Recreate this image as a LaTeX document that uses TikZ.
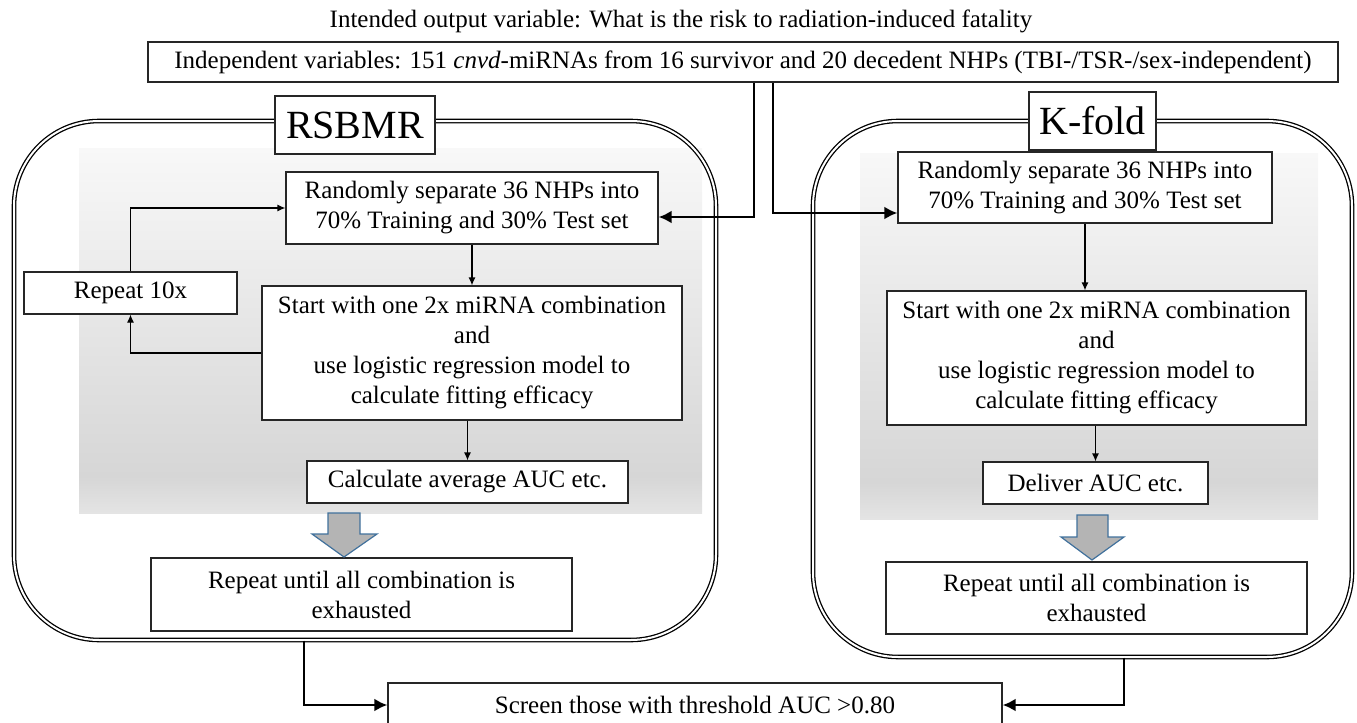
\documentclass[tikz,border=0pt]{standalone}
\usepackage{fontspec}
\setmainfont{Liberation Serif}
\usepackage{xcolor}
\usepackage{tikz}
\usetikzlibrary{arrows.meta}

\definecolor{panelTop}{HTML}{F8F8F8}
\definecolor{panelMid}{HTML}{D6D6D6}
\definecolor{panelBot}{HTML}{E4E4E4}
\definecolor{arrowFill}{HTML}{B4B4B4}
\definecolor{arrowLine}{HTML}{41719C}
\pgfdeclareverticalshading{panelshade}{100bp}{color(0bp)=(panelBot); color(25bp)=(panelBot); color(30bp)=(panelMid); color(75bp)=(panelTop); color(100bp)=(panelTop)}

\begin{document}
\begin{tikzpicture}[x=0.5pt, y=-0.5pt, font=\fontsize{12.5}{15}\selectfont,
  box/.style={draw=black!85, fill=white, line width=0.6pt, align=center, inner sep=0pt},
  heading/.style={box, font=\fontsize{20}{24}\selectfont},
  frame/.style={draw=black, double, double distance=1pt, line width=0.65pt, rounded corners=42.5pt, inner sep=0pt},
  flow/.style={line width=0.6pt, -{Latex[length=4pt, width=3.5pt]}},
  feed/.style={line width=1.3pt, -{Latex[length=6.5pt, width=6.5pt]}},
  bigarrow/.style={fill=arrowFill, draw=arrowLine, line width=0.6pt}]

  \useasboundingbox (0,0) rectangle (1357,723);

  % gray panels
  \shade[shading=panelshade] (79,148) rectangle (702,513);
  \shade[shading=panelshade] (860,153) rectangle (1318,519);

  % outer frames
  \node[frame, minimum width=351pt, minimum height=259.5pt] (rs_frame) at (365,380.5) {};
  \node[frame, minimum width=269.5pt, minimum height=268pt] (kf_frame) at (1082.5,389) {};

  \node (goal) at (681,21) {Intended output variable: What is the risk to radiation-induced fatality};
  \node[box, minimum width=595pt, minimum height=20pt] (indep) at (743,62) {Independent variables: 151 \textit{cnvd}-miRNAs from 16 survivor and 20 decedent NHPs (TBI-/TSR-/sex-independent)};

  \node[heading, minimum width=80pt, minimum height=29pt] (rs_head) at (355,125) {RSBMR};
  \node[heading, minimum width=63.5pt, minimum height=29pt] (kf_head) at (1092.5,121) {K-fold};

  % RSBMR
  \node[box, minimum width=186pt, minimum height=36pt] (rs_split) at (472,208) {Randomly separate 36 NHPs into\\70\% Training and 30\% Test set};
  \node[box, minimum width=106.5pt, minimum height=21pt] (rs_rep) at (130.5,293) {Repeat 10x};
  \node[box, minimum width=210pt, minimum height=67pt] (rs_fit) at (472,353) {Start with one 2x miRNA combination\\and\\use logistic regression model to\\calculate fitting efficacy};
  \node[box, minimum width=160.5pt, minimum height=21pt] (rs_auc) at (467.5,482) {Calculate average AUC etc.};
  \node[box, minimum width=210.5pt, minimum height=36.5pt] (rs_end) at (361.5,594.5) {Repeat until all combination is\\exhausted};

  % K-fold
  \node[box, minimum width=187pt, minimum height=35.5pt] (kf_split) at (1085,187.5) {Randomly separate 36 NHPs into\\70\% Training and 30\% Test set};
  \node[box, minimum width=209.5pt, minimum height=67pt] (kf_fit) at (1096.5,358) {Start with one 2x miRNA combination\\and\\use logistic regression model to\\calculate fitting efficacy};
  \node[box, minimum width=112.5pt, minimum height=21pt] (kf_auc) at (1095.5,483) {Deliver AUC etc.};
  \node[box, minimum width=210.5pt, minimum height=36pt] (kf_end) at (1096.5,598) {Repeat until all combination is\\exhausted};

  \node[box, minimum width=307pt, minimum height=22pt] (screen) at (695,705) {Screen those with threshold AUC >0.80};

  % inputs
  \coordinate (rs_tap) at (754,217);
  \coordinate (kf_tap) at (773,213);
  \draw[feed] (indep.south -| rs_tap) -- (rs_tap) -- (rs_split.east |- rs_tap);
  \draw[feed] (indep.south -| kf_tap) -- (kf_tap) -- (kf_split.west |- kf_tap);

  \draw[flow] (rs_split) -- (rs_fit);
  \draw[flow] (rs_fit.south -| rs_auc) -- (rs_auc.north);
  \draw[flow] (rs_fit.west) -| (rs_rep.south);
  \draw[flow] (rs_rep.north) |- (rs_split.west);
  \draw[flow] (kf_split.south) -- (kf_split.south |- kf_fit.north);
  \draw[flow] (kf_fit.south -| kf_auc) -- (kf_auc.north);

  \filldraw[bigarrow] (328,513) -- (360,513) -- (360,534) -- (377,534) -- (344,557) -- (312,534) -- (328,534) -- cycle;
  \filldraw[bigarrow] (1077,515) -- (1108,515) -- (1108,537) -- (1124,537) -- (1092,560) -- (1061,537) -- (1077,537) -- cycle;

  % outputs
  \coordinate (rs_out) at (304,640);
  \coordinate (kf_out) at (1124,657);
  \draw[feed] (rs_frame.south -| rs_out) |- (screen.west);
  \draw[feed] (kf_frame.south -| kf_out) |- (screen.east);
\end{tikzpicture}
\end{document}
